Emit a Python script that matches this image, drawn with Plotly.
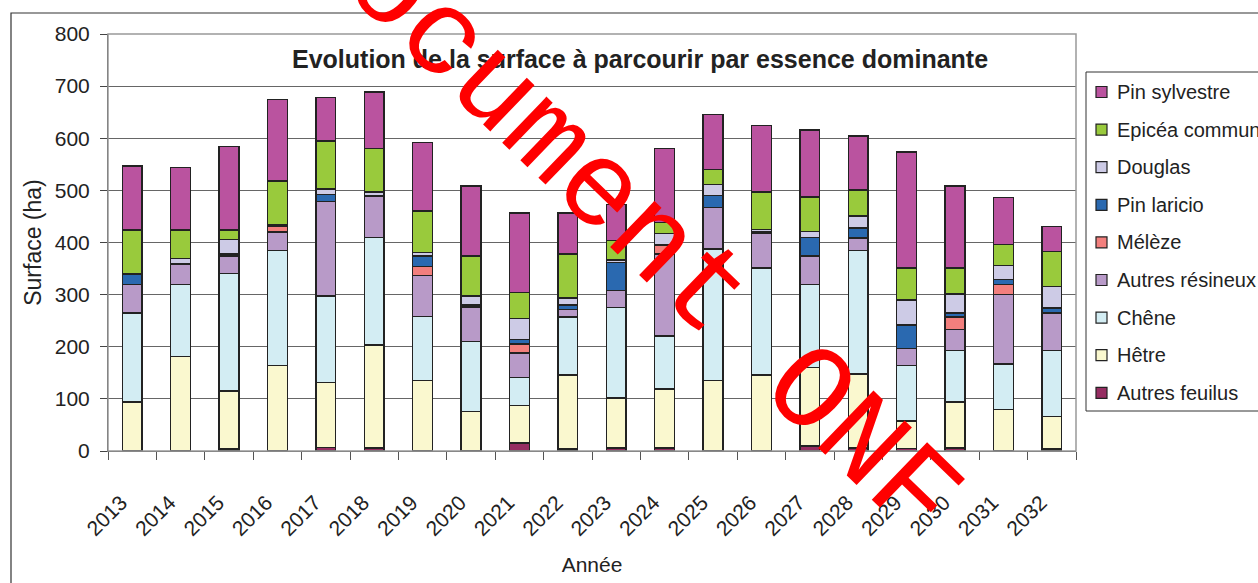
import plotly.graph_objects as go

years = [str(y) for y in range(2013, 2033)]

autres_feuilus = [0, 0, 4, 0, 7, 6, 0, 0, 15, 4, 6, 6, 0, 0, 10, 6, 5, 6, 0, 4]
hetre = [94, 181, 111, 164, 124, 197, 135, 76, 72, 142, 96, 113, 135, 146, 150, 142, 53, 88, 80, 62]
chene = [171, 138, 226, 221, 166, 207, 123, 134, 54, 111, 173, 102, 253, 205, 159, 237, 106, 99, 87, 127]
autres_resineux = [54, 40, 33, 35, 182, 79, 79, 66, 47, 14, 33, 157, 79, 66, 55, 24, 33, 40, 133, 72]
meleze = [0, 0, 0, 11, 0, 0, 17, 0, 17, 0, 0, 17, 0, 0, 0, 0, 0, 24, 19, 0]
pin_laricio = [21, 0, 4, 3, 13, 0, 20, 4, 9, 9, 54, 0, 23, 3, 36, 19, 45, 8, 10, 9]
douglas = [0, 10, 28, 0, 11, 8, 7, 17, 40, 14, 4, 22, 21, 5, 11, 23, 48, 36, 27, 42]
epicea = [84, 55, 18, 84, 92, 83, 79, 77, 50, 84, 38, 21, 29, 72, 66, 50, 61, 50, 40, 67]
pin_sylvestre = [123, 120, 160, 156, 83, 109, 132, 134, 153, 79, 69, 142, 106, 127, 129, 103, 223, 157, 90, 48]

series = [
    ("Autres feuilus", autres_feuilus, "#962D62"),
    ("Hêtre", hetre, "#FAF8CF"),
    ("Chêne", chene, "#D3EDF3"),
    ("Autres résineux", autres_resineux, "#B89AC8"),
    ("Mélèze", meleze, "#F27F7D"),
    ("Pin laricio", pin_laricio, "#2A69B0"),
    ("Douglas", douglas, "#CDCBE6"),
    ("Epicéa commun", epicea, "#99CA3C"),
    ("Pin sylvestre", pin_sylvestre, "#BA539F"),
]

FONT = "Liberation Sans, Arial, sans-serif"
TXT = "#222222"

fig = go.Figure()
for name, vals, col in series:
    fig.add_trace(go.Bar(
        x=years, y=vals, name=name, showlegend=False,
        marker=dict(color=col, line=dict(color="#222222", width=1.5)),
    ))

W, H = 1258, 583
L, R, T, B = 108, 1076, 34, 451
pw, ph = R - L, B - T

def px(x):
    return (x - L) / pw

def py(y):
    return (B - y) / ph

shapes = [
    # plot-area frame
    dict(type="rect", xref="paper", yref="paper", x0=0, x1=1, y0=0, y1=1,
         line=dict(color="#999999", width=1.5), layer="above"),
    # outer chart frame
    dict(type="rect", xref="paper", yref="paper",
         x0=px(11), x1=px(1400), y0=py(700), y1=py(13),
         line=dict(color="#333333", width=1.2), layer="below"),
    # legend box
    dict(type="rect", xref="paper", yref="paper",
         x0=px(1086), x1=px(1400), y0=py(411), y1=py(72),
         line=dict(color="#333333", width=1), fillcolor="white", layer="below"),
]

annotations = [
    dict(text="<b>Evolution de la surface à parcourir par essence dominante</b>",
         xref="paper", yref="paper", x=px(640), y=py(59),
         xanchor="center", yanchor="middle", showarrow=False,
         font=dict(family=FONT, size=25, color=TXT)),
]

# manual legend (entries from the series list, top = last stacked series)
for k, (name, vals, col) in enumerate(reversed(series)):
    yc = 92 + k * 37.6
    shapes.append(dict(type="rect", xref="paper", yref="paper",
                       x0=px(1096), x1=px(1107), y0=py(yc + 5.5), y1=py(yc - 5.5),
                       fillcolor=col, line=dict(color="#222222", width=1.2), layer="above"))
    annotations.append(dict(text=name, xref="paper", yref="paper",
                            x=px(1115), y=py(yc), xanchor="left", yanchor="middle",
                            showarrow=False,
                            font=dict(family=FONT, size=20, color=TXT)))

annotations.append(dict(text="Document ONF", xref="paper", yref="paper",
                        x=px(624), y=py(216), xanchor="center", yanchor="middle",
                        showarrow=False, textangle=44,
                        font=dict(family="Liberation Mono, Courier New, monospace",
                                  size=121, color="#FF0000")))

fig.update_layout(
    width=W, height=H,
    margin=dict(l=L, r=W - R, t=T, b=H - B, autoexpand=False),
    barmode="stack", bargap=0.59,
    paper_bgcolor="white", plot_bgcolor="white",
    font=dict(family=FONT, size=20, color=TXT),
    showlegend=False,
    xaxis=dict(
        type="category", tickangle=-45, ticks="outside", tickson="boundaries",
        ticklen=8, tickcolor="#555555", showline=True, linecolor="#555555",
        tickfont=dict(size=21), showgrid=False, ticklabelstandoff=30,
        ticklabelshift=-11, automargin=False,
        title=dict(text="Année", font=dict(size=21), standoff=18),
    ),
    yaxis=dict(
        range=[0, 800], dtick=100, ticks="outside", ticklen=7, tickcolor="#444444",
        showline=True, linecolor="#444444", linewidth=1,
        gridcolor="#666666", gridwidth=1, zeroline=False, automargin=False,
        tickfont=dict(size=21), ticklabelstandoff=6,
        title=dict(text="Surface (ha)", font=dict(size=23), standoff=6),
    ),
    annotations=annotations,
    shapes=shapes,
)

fig.write_html("out.html")
